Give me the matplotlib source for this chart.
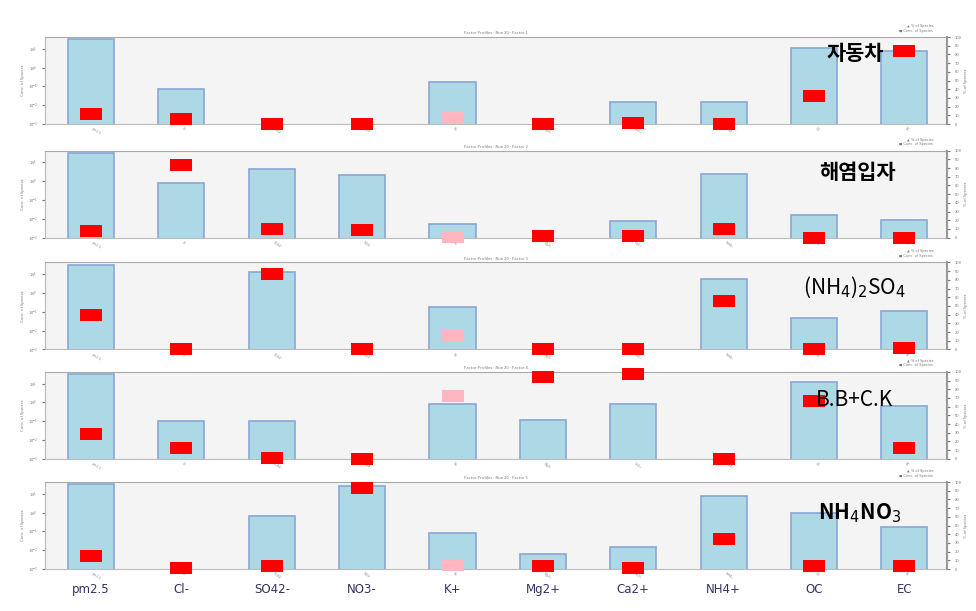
import matplotlib
matplotlib.use("Agg")
import matplotlib.pyplot as plt
import numpy as np
from matplotlib.path import Path

plt.rcParams['font.family'] = ['Noto Sans CJK KR', 'DejaVu Sans']
plt.rcParams['mathtext.fontset'] = 'dejavusans'

# 화학종
species = ["pm2.5", "Cl-", "SO42-", "NO3-", "K+", "Mg2+", "Ca2+", "NH4+", "OC", "EC"]

# 인자별 이름
factor_names = ["자동차", "해염입자", r"(NH$_4$)$_2$SO$_4$", "B.B+C.K", r"NH$_4$NO$_3$"]

# Conc. of Species (log 축), 1e-4 는 축 아래 (보이지 않음)
conc_f1 = [31, 0.074, 1e-4, 1e-4, 0.18, 1e-4, 0.015, 0.015, 11.5, 8.0]
conc_f2 = [31, 0.78, 4.3, 2.1, 0.005, 1e-4, 0.008, 2.3, 0.015, 0.009]
conc_f3 = [31, 1e-4, 13, 1e-4, 0.18, 1e-4, 1e-4, 5.5, 0.046, 0.107]
conc_f4 = [31, 0.107, 0.107, 1e-4, 0.87, 0.12, 0.78, 1e-4, 11.5, 0.68]
conc_f5 = [31, 1e-4, 0.68, 24.5, 0.085, 0.0063, 0.015, 8.0, 1.0, 0.18]

# % of Species (오른쪽 축)
pct_f1 = [11.5, 6, 0, 0, 8, 0, 1.5, 0.5, 32, 84]
pct_f2 = [8, 83, 10, 9, 1, 2, 2, 10, 0, 0]
pct_f3 = [40, 0, 87, 0, 16, 0, 0, 56, 0, 2]
pct_f4 = [28, 13, 1, 0, 72, 94, 97, 0, 67, 13]
pct_f5 = [15, 1, 3, 93, 5, 3, 1, 34, 3, 3]

concs = [conc_f1, conc_f2, conc_f3, conc_f4, conc_f5]
pcts = [pct_f1, pct_f2, pct_f3, pct_f4, pct_f5]

# 패널 위치 (figure 비율)
left, width, height = 0.0461, 0.924, 0.1424
bottoms = [0.797, 0.611, 0.428, 0.249, 0.0687]
label_pos = [(0.876, 0.912), (0.878, 0.718), (0.876, 0.530), (0.876, 0.345), (0.881, 0.160)]
label_bold = [True, True, False, False, True]

# 빨간 직사각형 마커
rect = Path([(-1, -0.55), (1, -0.55), (1, 0.55), (-1, 0.55), (-1, -0.55)],
            [Path.MOVETO, Path.LINETO, Path.LINETO, Path.LINETO, Path.CLOSEPOLY])

fig = plt.figure(figsize=(9.76, 6.11), dpi=100, facecolor='white')
x = np.arange(len(species))

for i in range(5):
    ax = fig.add_axes([left, bottoms[i], width, height])
    ax.set_facecolor('#f4f4f4')
    ax.bar(x, concs[i], width=0.51, color='#add8e6', edgecolor='#8aa6d6', lw=1.2,
           bottom=1e-4, zorder=2)
    ax.set_yscale('log')
    ax.set_ylim(1e-3, 10 ** 1.62)
    ax.set_xlim(-0.51, 9.47)
    ax.set_yticks([1e-3, 1e-2, 1e-1, 1e0, 1e1])
    ax.tick_params(axis='y', labelsize=3, length=2, colors='#777777', which='both')
    ax.tick_params(axis='y', which='minor', length=0)
    ax.set_ylabel("Conc. of Species", fontsize=3, color='#777777', labelpad=2)
    ax.set_xticks(x)
    ax.set_xticklabels(species, rotation=-35, fontsize=2.5, color='#888888', ha='left')
    ax.tick_params(axis='x', length=0, pad=2)
    for s in ax.spines.values():
        s.set_color('#bbbbbb')
        s.set_linewidth(0.8)
    ax.spines['top'].set_color('#aaaaaa')
    ax.set_title("Factor Profiles - Run 20 - Factor %d" % (i + 1), fontsize=3,
                 color='#777777', pad=2)

    ax2 = ax.twinx()
    ax2.set_ylim(0, 100)
    ax2.set_yticks(np.arange(0, 101, 10))
    ax2.tick_params(axis='y', labelsize=3, length=2, colors='#777777')
    ax2.set_ylabel("% of Species", fontsize=3, color='#777777', labelpad=2)
    for s in ax2.spines.values():
        s.set_visible(False)
    ax2.spines['right'].set_visible(True)
    ax2.spines['right'].set_color('#999999')
    ax2.spines['right'].set_linewidth(1.5)

    colors = ['#ffb6c1' if sp == "K+" else '#ff0000' for sp in species]
    for xi, p, c in zip(x, pcts[i], colors):
        ax2.plot([xi], [p], marker=rect, markersize=16, color=c, ls='none',
                 markeredgewidth=0, zorder=5, clip_on=False)

    ax2.text(0.985, 1.1, "▲ % of Species\n■ Conc. of Species", transform=ax2.transAxes,
             fontsize=2.5, color='#777777', ha='right', va='center', family='DejaVu Sans')

    fig.text(label_pos[i][0], label_pos[i][1], factor_names[i], fontsize=15,
             fontweight='bold' if label_bold[i] else 'normal',
             ha='center', va='center', color='black', zorder=10)

    if i == 4:
        for xi, sp in zip(x, species):
            ax.text(xi, -0.24, sp, transform=ax.get_xaxis_transform(), fontsize=8.5,
                    color='#333366', ha='center', va='center', family='DejaVu Sans')

fig.savefig("out.png", dpi=100)
